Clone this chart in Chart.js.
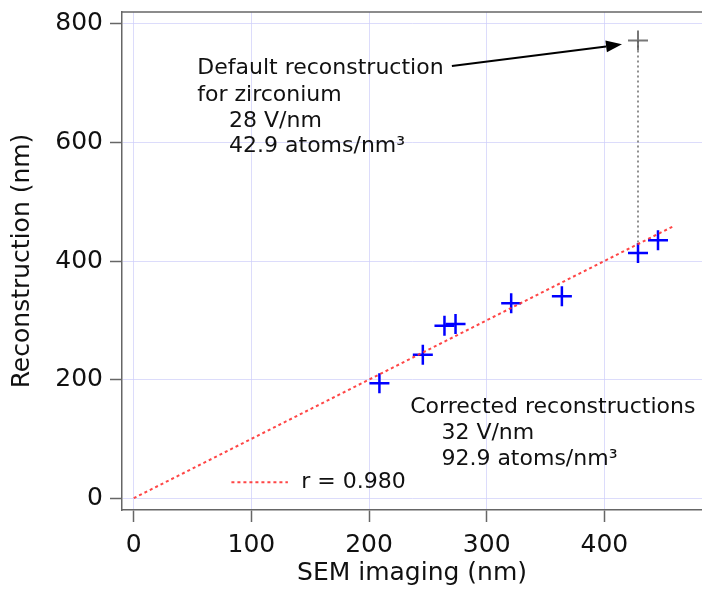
<!DOCTYPE html>
<html>
<head>
<meta charset="utf-8">
<script src="https://cdn.jsdelivr.net/npm/chart.js@4.4.0/dist/chart.umd.min.js"></script>
<style>
    html, body { margin: 0; padding: 0; background: #fff; }
</style>
</head>
<body>
<canvas id="myChart" width="702" height="595"></canvas>
<script>
// values
const semImaging = [208.8, 245.7, 264.1, 273.5, 320.8, 363.9, 428.6, 445.6];
const reconstruction = [193.7, 241.7, 290.8, 293.7, 328.8, 340.7, 413.6, 434.9];
const defaultSem = [428.6];
const defaultRecon = [772];
const dropRecon = [772, 430];       // dotted drop from default to corrected point
const fitSem = [0, 459];
const fitRecon = [0, 459];
const xTicks = [0, 100, 200, 300, 400];
const yTicks = [0, 200, 400, 600, 800];
const fitLabel = "r = 0.980";

const FONT = "'DejaVu Sans', Verdana, sans-serif";

const toPoints = (xs, ys) => xs.map((v, i) => ({ x: v, y: ys[i] }));

// text notes, arrow and the little legend inside the plot
const notes = {
    id: "notes",
    afterDatasetsDraw(chart) {
        const { ctx, chartArea, scales: { x, y } } = chart;
        ctx.save();

        // top border of the frame
        ctx.strokeStyle = "#666";
        ctx.lineWidth = 1.5;
        ctx.beginPath();
        ctx.moveTo(chartArea.left, chartArea.top);
        ctx.lineTo(chartArea.right, chartArea.top);
        ctx.stroke();

        ctx.fillStyle = "#111";
        ctx.font = "22px " + FONT;
        ctx.textBaseline = "alphabetic";
        ctx.textAlign = "left";

        let tx = x.getPixelForValue(54), ty = y.getPixelForValue(716);
        let ix = x.getPixelForValue(81);
        ctx.fillText("Default reconstruction", tx, ty);
        ctx.fillText("for zirconium", tx, ty + 27);
        ctx.fillText("28 V/nm", ix, ty + 53);
        ctx.fillText("42.9 atoms/nm³", ix, ty + 78);

        tx = x.getPixelForValue(235); ty = y.getPixelForValue(144);
        ix = x.getPixelForValue(261.5);
        ctx.fillText("Corrected reconstructions", tx, ty);
        ctx.fillText("32 V/nm", ix, ty + 26);
        ctx.fillText("92.9 atoms/nm³", ix, ty + 52);

        // arrow to the default point
        const x0 = x.getPixelForValue(270.4), y0 = y.getPixelForValue(728.8);
        const x1 = x.getPixelForValue(415), y1 = y.getPixelForValue(765.4);
        const ang = Math.atan2(y1 - y0, x1 - x0);
        const headLen = 16, headW = 6;
        ctx.strokeStyle = "#000";
        ctx.lineWidth = 2;
        ctx.beginPath();
        ctx.moveTo(x0, y0);
        ctx.lineTo(x1 - headLen * Math.cos(ang), y1 - headLen * Math.sin(ang));
        ctx.stroke();
        ctx.fillStyle = "#000";
        ctx.beginPath();
        ctx.moveTo(x1, y1);
        ctx.lineTo(x1 - headLen * Math.cos(ang) + headW * Math.sin(ang),
                   y1 - headLen * Math.sin(ang) - headW * Math.cos(ang));
        ctx.lineTo(x1 - headLen * Math.cos(ang) - headW * Math.sin(ang),
                   y1 - headLen * Math.sin(ang) + headW * Math.cos(ang));
        ctx.closePath();
        ctx.fill();

        // legend for the fit line
        const ly = y.getPixelForValue(27);
        ctx.strokeStyle = "rgba(255,50,50,0.9)";
        ctx.lineWidth = 2;
        ctx.setLineDash([3, 3]);
        ctx.beginPath();
        ctx.moveTo(x.getPixelForValue(83), ly);
        ctx.lineTo(x.getPixelForValue(131), ly);
        ctx.stroke();
        ctx.setLineDash([]);
        ctx.fillStyle = "#111";
        ctx.textBaseline = "middle";
        ctx.fillText(fitLabel, x.getPixelForValue(142.3), ly);

        ctx.restore();
    }
};

const grid = {
    color: "rgba(205,205,250,0.7)",
    lineWidth: 1,
    tickColor: "#666",
    tickWidth: 1.5,
    tickLength: 12
};

new Chart(document.getElementById("myChart"), {
    type: "scatter",
    data: {
        datasets: [
            {
                label: "fit",
                type: "line",
                data: toPoints(fitSem, fitRecon),
                borderColor: "rgba(255,50,50,0.9)",
                borderWidth: 2,
                borderDash: [3, 3],
                pointRadius: 0,
                fill: false
            },
            {
                label: "drop",
                type: "line",
                data: toPoints([defaultSem[0], defaultSem[0]], dropRecon),
                borderColor: "#555",
                borderWidth: 1.3,
                borderDash: [2, 3],
                pointRadius: 0,
                fill: false
            },
            {
                label: "Default",
                data: toPoints(defaultSem, defaultRecon),
                pointStyle: "cross",
                pointRadius: 10,
                pointHoverRadius: 10,
                borderColor: "#777",
                borderWidth: 2
            },
            {
                label: "Corrected",
                data: toPoints(semImaging, reconstruction),
                pointStyle: "cross",
                pointRadius: 10,
                pointHoverRadius: 10,
                borderColor: "#0000ff",
                borderWidth: 2.5
            }
        ]
    },
    options: {
        responsive: false,
        animation: false,
        layout: { autoPadding: false, padding: { top: 12, right: 0, left: 0, bottom: 0 } },
        plugins: {
            legend: { display: false },
            tooltip: { enabled: false }
        },
        scales: {
            x: {
                type: "linear",
                min: -10,
                max: 483,
                afterBuildTicks: axis => { axis.ticks = xTicks.map(v => ({ value: v })); },
                afterFit: axis => {
                    axis.height = 85;
                    axis.paddingLeft = 0;
                    axis.paddingRight = 0;
                },
                grid: grid,
                border: { display: true, color: "#666", width: 1.5 },
                ticks: { color: "#111", padding: 8, font: { family: FONT, size: 25 } },
                title: {
                    display: true,
                    text: "SEM imaging (nm)",
                    color: "#111",
                    padding: { top: 0, bottom: 7 },
                    font: { family: FONT, size: 25 }
                }
            },
            y: {
                type: "linear",
                min: -20,
                max: 820,
                afterBuildTicks: axis => { axis.ticks = yTicks.map(v => ({ value: v })); },
                afterFit: axis => {
                    axis.width = 122;
                    axis.paddingTop = 0;
                    axis.paddingBottom = 0;
                },
                grid: grid,
                border: { display: true, color: "#666", width: 1.5 },
                ticks: { color: "#111", padding: 7, font: { family: FONT, size: 25 } },
                title: {
                    display: true,
                    text: "Reconstruction (nm)",
                    color: "#111",
                    padding: { top: 7, bottom: 0 },
                    font: { family: FONT, size: 25 }
                }
            }
        }
    },
    plugins: [notes]
});
</script>
</body>
</html>
